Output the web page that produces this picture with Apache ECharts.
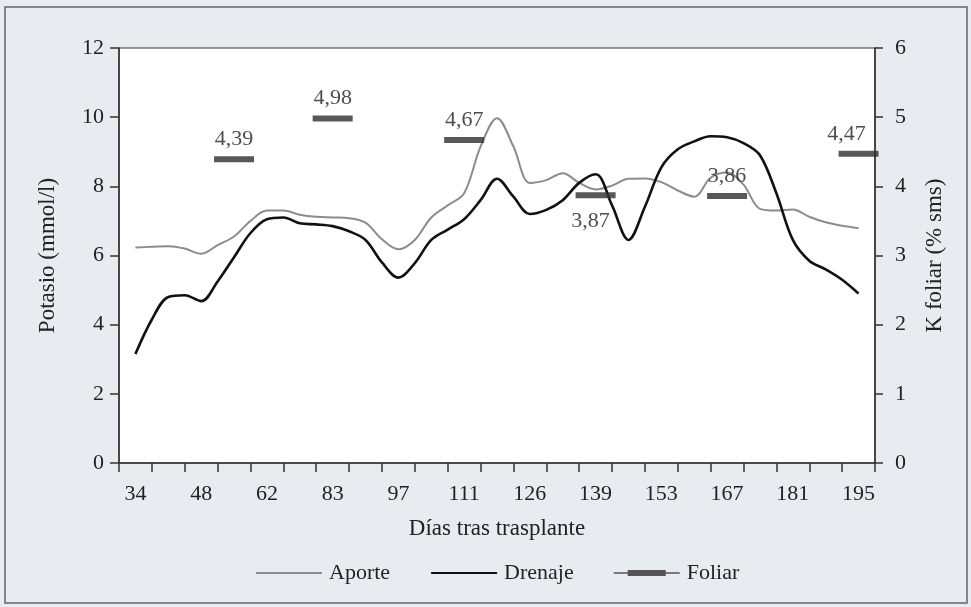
<!DOCTYPE html>
<html>
<head>
<meta charset="utf-8">
<script src="https://cdn.jsdelivr.net/npm/echarts@6/dist/echarts.min.js"></script>
<style>
html,body{margin:0;padding:0;background:#e8ebf0;}
#c{width:971px;height:607px;}
</style>
</head>
<body>
<div id="c"></div>
<script>
// Category axis (days after transplant); labels shown on every other category
var categories = ['34','41','48','55','62','72','83','90','97','104','111','118','126','132','139','146','153','160','167','174','181','188','195'];

// Sample positions of the continuous curves, in category-band units (band i centre = i + 0.5)
var samplePos = [0.5,1.0,1.5,2.0,2.5,3.0,3.5,4.0,4.5,5.0,5.5,6.0,6.5,7.0,7.5,8.0,8.5,9.0,9.5,10.0,10.5,11.0,11.5,12.0,12.5,13.0,13.5,14.0,14.5,15.0,15.5,16.0,16.5,17.0,17.5,18.0,18.5,19.0,19.5,20.0,20.5,21.0,21.5,22.0,22.5];

// Potasio (mmol/l)
var aporte = [6.23,6.25,6.27,6.20,6.05,6.30,6.55,7.00,7.30,7.30,7.18,7.12,7.10,7.08,6.95,6.47,6.18,6.45,7.10,7.45,7.80,9.15,9.97,9.15,8.10,8.18,8.38,8.10,7.91,8.02,8.22,8.23,8.12,7.88,7.70,8.25,8.40,8.05,7.35,7.30,7.33,7.12,6.96,6.86,6.79];
var drenaje = [3.15,4.15,4.80,4.85,4.68,5.25,5.95,6.65,7.05,7.10,6.93,6.90,6.85,6.70,6.45,5.80,5.36,5.78,6.45,6.75,7.05,7.60,8.22,7.70,7.20,7.32,7.60,8.10,8.35,7.45,6.45,7.41,8.55,9.07,9.30,9.45,9.42,9.25,8.90,7.80,6.45,5.85,5.60,5.30,4.90];

// K foliar (% sms)
var foliarDays = ['55','83','111','139','167','195'];
var foliarValues = [4.39,4.98,4.67,3.87,3.86,4.47];
var foliarLabels = ['4,39','4,98','4,67','3,87','3,86','4,47'];

var leftTicks = {min:0, max:12, interval:2};
var rightTicks = {min:0, max:6, interval:1};

var FONT = "'Liberation Serif','Times New Roman',serif";
var TXT = '#222';
var AX = '#333';

function pairs(xs, ys){ return xs.map(function(x,i){ return [x, ys[i]]; }); }

var foliarData = foliarDays.map(function(d,i){
  var item = {value:[d, foliarValues[i]]};
  if (foliarLabels[i] === '3,87') {
    item.label = {position:'bottom', distance:12, offset:[-5,0]};
  }
  if (foliarLabels[i] === '4,47') {
    item.label = {offset:[-12,0]};
  }
  return item;
});

var chart = echarts.init(document.getElementById('c'), null, {renderer:'canvas'});
chart.setOption({
  backgroundColor:'#e8ebf0',
  animation:false,
  textStyle:{fontFamily:FONT, color:TXT},
  graphic:[{
    type:'rect', shape:{x:5, y:7, width:962, height:596},
    style:{fill:'none', stroke:'#666', lineWidth:1.5}, silent:true, z:-1
  }],
  grid:{left:119, right:96, top:48, bottom:144, show:true, backgroundColor:'#ffffff', borderColor:AX, borderWidth:1.2},
  legend:{
    left:250, top:557, itemWidth:66, itemHeight:10, itemGap:40,
    textStyle:{fontFamily:FONT, fontSize:22, color:TXT, padding:[0,0,0,2]},
    data:[
      {name:'Aporte', itemStyle:{opacity:0}},
      {name:'Drenaje', itemStyle:{opacity:0}},
      {name:'Foliar', icon:'path://M0,4.2H14V2H52V4.2H66V5.8H52V8H14V5.8H0Z', itemStyle:{color:'#2e2e2e'}}
    ]
  },
  xAxis:[{
    type:'category', data:categories, boundaryGap:true,
    name:'Días tras trasplante', nameLocation:'middle', nameGap:54,
    nameTextStyle:{fontFamily:FONT, fontSize:23, color:TXT},
    axisLine:{lineStyle:{color:AX, width:1.5}},
    axisTick:{show:true, interval:0, length:9, lineStyle:{color:AX, width:1.5}},
    axisLabel:{interval:1, margin:20, fontFamily:FONT, fontSize:22, color:TXT},
    splitLine:{show:false}
  },{
    type:'value', min:0, max:23, show:false
  }],
  yAxis:[{
    type:'value', min:leftTicks.min, max:leftTicks.max, interval:leftTicks.interval,
    name:'Potasio (mmol/l)', nameLocation:'middle', nameGap:60, nameRotate:90,
    nameTextStyle:{fontFamily:FONT, fontSize:23, color:TXT},
    axisLine:{show:true, lineStyle:{color:AX, width:1.5}},
    axisTick:{show:true, length:9, lineStyle:{color:AX, width:1.5}},
    axisLabel:{margin:15, fontFamily:FONT, fontSize:22, color:TXT},
    splitLine:{show:false}
  },{
    type:'value', min:rightTicks.min, max:rightTicks.max, interval:rightTicks.interval, position:'right',
    name:'K foliar (% sms)', nameLocation:'middle', nameGap:48, nameRotate:90,
    nameTextStyle:{fontFamily:FONT, fontSize:23, color:TXT},
    axisLine:{show:true, lineStyle:{color:AX, width:1.5}},
    axisTick:{show:true, length:8, lineStyle:{color:AX, width:1.5}},
    axisLabel:{margin:20, fontFamily:FONT, fontSize:22, color:TXT},
    splitLine:{show:false}
  }],
  series:[{
    name:'Aporte', type:'line', xAxisIndex:1, yAxisIndex:0,
    data:pairs(samplePos, aporte), smooth:0.35, symbol:'none', showSymbol:false,
    lineStyle:{color:'#8c8c8c', width:2}, itemStyle:{color:'#8c8c8c'}, z:3
  },{
    name:'Drenaje', type:'line', xAxisIndex:1, yAxisIndex:0,
    data:pairs(samplePos, drenaje), smooth:0.35, symbol:'none', showSymbol:false,
    lineStyle:{color:'#111', width:2.6}, itemStyle:{color:'#111'}, z:4
  },{
    name:'Foliar', type:'scatter', xAxisIndex:0, yAxisIndex:1,
    symbol:'rect', symbolSize:[40,6],
    itemStyle:{color:'#2e2e2e'},
    data:foliarData,
    label:{show:true, position:'top', distance:6, fontFamily:FONT, fontSize:22, color:TXT,
      formatter:function(p){ return foliarLabels[p.dataIndex]; }},
    z:5
  }]
});
</script>
</body>
</html>
